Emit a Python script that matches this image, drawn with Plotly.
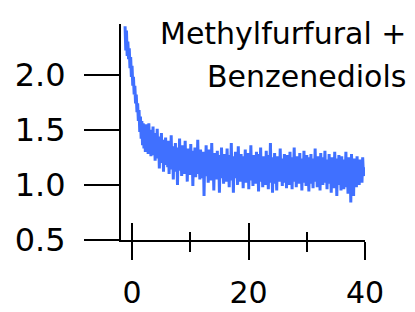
import plotly.graph_objects as go

# ---- data ----
t_start = -1.2
t_step = 0.12
signal = [
    2.44, 2.22, 2.40, 2.17, 2.30, 2.14, 2.24, 2.06, 2.16, 1.98,
    2.08, 1.90, 1.98, 1.82, 1.90, 1.74, 1.82, 1.66, 1.74, 1.58,
    1.68, 1.48, 1.62, 1.42, 1.58, 1.36, 1.56, 1.33, 1.54, 1.30, 1.55,
    1.31, 1.52, 1.28, 1.56, 1.33, 1.50, 1.26, 1.49, 1.30, 1.53,
    1.27, 1.46, 1.22, 1.47, 1.28, 1.51, 1.24, 1.44, 1.15, 1.42,
    1.25, 1.47, 1.20, 1.41, 1.12, 1.39, 1.22, 1.43, 1.18, 1.38,
    1.16, 1.40, 1.10, 1.36, 1.19, 1.45, 1.14, 1.35, 1.05, 1.33,
    1.18, 1.38, 1.12, 1.31, 1.00, 1.34, 1.15, 1.42, 1.13, 1.30,
    1.08, 1.36, 1.17, 1.32, 1.10, 1.40, 1.14, 1.29, 1.03, 1.33,
    1.16, 1.30, 1.09, 1.37, 1.13, 1.28, 0.99, 1.31, 1.15, 1.34,
    1.07, 1.29, 1.12, 1.41, 1.10, 1.27, 1.05, 1.32, 1.14, 1.28,
    1.06, 1.30, 0.90, 1.27, 1.12, 1.36, 1.08, 1.25, 1.02, 1.32,
    1.14, 1.24, 1.04, 1.38, 1.10, 1.26, 0.95, 1.29, 1.13, 1.23,
    1.05, 1.31, 1.09, 1.27, 0.93, 1.25, 1.11, 1.34, 1.06, 1.22,
    1.01, 1.28, 1.12, 1.24, 1.03, 1.33, 1.08, 1.21, 0.98, 1.27,
    1.10, 1.38, 1.04, 1.23, 0.93, 1.26, 1.12, 1.30, 1.06, 1.22,
    1.00, 1.35, 1.09, 1.24, 1.03, 1.28, 1.11, 1.21, 0.97, 1.26,
    1.07, 1.32, 1.02, 1.23, 1.10, 1.29, 0.96, 1.25, 1.08, 1.36,
    1.04, 1.21, 0.99, 1.27, 1.12, 1.24, 1.01, 1.30, 1.06, 1.22,
    0.94, 1.28, 1.09, 1.34, 1.03, 1.20, 0.98, 1.26, 1.10, 1.23,
    1.00, 1.31, 1.05, 1.21, 0.96, 1.27, 1.08, 1.38, 1.02, 1.22,
    0.93, 1.25, 1.07, 1.29, 1.01, 1.20, 0.95, 1.26, 1.09, 1.23,
    1.03, 1.33, 1.06, 1.19, 0.99, 1.24, 1.10, 1.28, 1.02, 1.21,
    0.97, 1.27, 1.08, 1.22, 1.00, 1.30, 1.05, 1.20, 0.96, 1.25,
    1.09, 1.34, 1.03, 1.21, 0.98, 1.26, 1.07, 1.23, 1.01, 1.29,
    1.04, 1.20, 0.95, 1.24, 1.08, 1.31, 1.02, 1.22, 0.99, 1.27,
    1.06, 1.19, 0.94, 1.25, 1.09, 1.28, 1.01, 1.21, 0.97, 1.24,
    1.07, 1.33, 1.03, 1.20, 0.98, 1.26, 1.08, 1.22, 0.95, 1.29,
    1.05, 1.19, 1.00, 1.25, 1.09, 1.31, 1.02, 1.21, 0.96, 1.23,
    1.06, 1.28, 1.01, 1.20, 0.93, 1.25, 1.07, 1.22, 0.97, 1.30,
    1.04, 1.18, 0.90, 1.24, 1.08, 1.27, 1.00, 1.21, 0.95, 1.26,
    1.03, 1.19, 0.96, 1.23, 1.06, 1.30, 0.98, 1.20, 0.92, 1.25,
    1.05, 1.22, 0.84, 1.28, 1.07, 1.19, 0.90, 1.24, 1.04, 1.21,
    0.98, 1.26, 1.06, 1.20, 1.00, 1.23, 1.08, 1.18, 1.02, 1.25,
    1.10, 1.16, 1.08,
]
time = [round(t_start + i * t_step, 3) for i in range(len(signal))]

x_major_ticks = [0, 20, 40]
x_minor_ticks = [10, 30]
y_ticks = [0.5, 1.0, 1.5, 2.0]
title_lines = ["Methylfurfural +", "Benzenediols"]

x_range = [-1.9, 40]
y_range = [0.5, 2.46]

FONT = "DejaVu Sans"
LINE_COLOR = "#4070ff"

fig = go.Figure()
fig.add_trace(go.Scatter(
    x=time, y=signal, mode="lines",
    line=dict(color=LINE_COLOR, width=3),
    showlegend=False, hoverinfo="skip",
))
# helper (empty) trace so the overlaid inside-tick axis is drawn
fig.add_trace(go.Scatter(x=[], y=[], xaxis="x2", yaxis="y", showlegend=False))

fig.update_layout(
    width=415, height=312,
    margin=dict(l=121, r=50, t=24, b=72, autoexpand=False),
    paper_bgcolor="white", plot_bgcolor="white",
    font=dict(family=FONT, color="black"),
    xaxis=dict(
        range=x_range, showgrid=False, zeroline=False, automargin=False,
        showline=True, linecolor="black", linewidth=2,
        ticks="outside", ticklen=18, tickwidth=2, tickcolor="black",
        tickmode="array", tickvals=x_major_ticks,
        ticktext=[str(v) for v in x_major_ticks],
        tickfont=dict(size=30, family=FONT, color="black"),
        ticklabelstandoff=7,
        minor=dict(tickmode="array", tickvals=x_minor_ticks, ticks="outside",
                   ticklen=10, tickwidth=2, tickcolor="black", showgrid=False),
    ),
    xaxis2=dict(
        range=x_range, overlaying="x", anchor="y", side="bottom", automargin=False,
        showgrid=False, zeroline=False, showline=False,
        ticks="inside", ticklen=17, tickwidth=2, tickcolor="black",
        tickmode="array", tickvals=x_major_ticks, showticklabels=False,
        minor=dict(tickmode="array", tickvals=x_minor_ticks, ticks="inside",
                   ticklen=8, tickwidth=2, tickcolor="black", showgrid=False),
    ),
    yaxis=dict(
        range=y_range, showgrid=False, zeroline=False, automargin=False,
        showline=True, linecolor="black", linewidth=2,
        ticks="outside", ticklen=35, tickwidth=2, tickcolor="black",
        tickmode="array", tickvals=y_ticks,
        ticktext=[f"{v:.1f}" for v in y_ticks],
        tickfont=dict(size=32, family=FONT, color="black"),
        ticklabelstandoff=12,
    ),
)

fig.add_annotation(text=title_lines[0], xref="paper", yref="paper",
                   x=1.176, y=1.046, xanchor="right", yanchor="top",
                   showarrow=False, font=dict(size=30, family=FONT, color="black"))
fig.add_annotation(text=title_lines[1], xref="paper", yref="paper",
                   x=1.176, y=0.847, xanchor="right", yanchor="top",
                   showarrow=False, font=dict(size=30, family=FONT, color="black"))

fig.write_html(
    "out.html",
    config={"displayModeBar": False},
    post_script="document.body.style.margin='0';document.body.style.padding='0';",
)
